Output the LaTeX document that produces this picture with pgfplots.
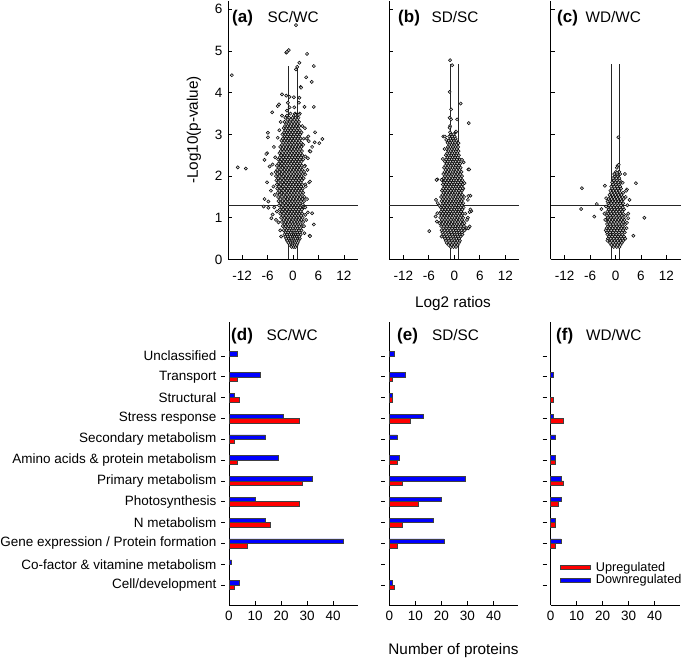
\documentclass[border=0pt]{standalone}
\usepackage{pgfplots}
\pgfplotsset{compat=1.18}
\usepackage{fontspec}
\setmainfont{Liberation Sans}
\definecolor{upred}{RGB}{255,0,0}
\definecolor{downblue}{RGB}{0,0,255}
\pgfplotsset{
  base/.style={
    scale only axis, anchor=south west, clip=false,
    axis x line*=bottom, axis y line*=left,
    axis line style={line width=0.8pt, black},
    major tick length=4pt,
    tick style={black, line width=0.7pt},
    /pgf/number format/assume math mode=true,
    tick label style={font=\fontsize{13.5}{16}\selectfont},
  },
  volc/.style={base, width=130pt, height=258.5pt,
    xmin=-15.3, xmax=15.3, ymin=0, ymax=6.2,
    xtick={-12,-6,0,6,12}, ytick={0,1,2,3,4,5,6}, tick align=inside,
    xticklabel style={yshift=-8pt}, yticklabel style={xshift=-2pt}},
  thr/.style={black!85, line width=0.7pt},
  pts/.style={only marks, mark=*, mark size=1.6pt,
    mark options={draw=black, fill=black!18, line width=0.5pt}},
  bars/.style={base, width=129pt, height=283pt,
    xmin=0, xmax=49.5, ymin=-0.96, ymax=12.63,
    xtick={0,10,20,30,40}, ytick={0,1,2,3,4,5,6,7,8,9,10,11},
    tick align=inside, ytick style={xshift=-4pt},
    yticklabel style={xshift=-5pt},
    xticklabel style={yshift=-3pt},
    xbar, bar width=4.4pt},
  upbar/.style={fill=upred, draw=black!75, line width=0.5pt, bar shift=-2.2pt},
  dnbar/.style={fill=downblue, draw=black!75, line width=0.5pt, bar shift=2.2pt},
}
\begin{document}
\begin{tikzpicture}[x=1pt,y=1pt]
\useasboundingbox (0,0) rectangle (685,660);

% ---------------- (a) SC/WC volcano
\begin{axis}[volc, at={(228pt,400.5pt)}]
\addplot[thr] coordinates {(-1,0) (-1,4.65)};
\addplot[thr] coordinates {(1,0) (1,4.65)};
\addplot[thr] coordinates {(-15.3,1.3) (15.3,1.3)};
\addplot[pts] coordinates {
(-0.3,0.30) (0.2,0.30) (0.6,0.30)
(-0.8,0.35) (-0.1,0.35) (0.4,0.35) (0.9,0.35)
(-1.1,0.40) (-0.5,0.40) (0.0,0.40) (0.5,0.40) (1.1,0.40)
(-1.4,0.45) (-0.7,0.45) (-0.2,0.45) (0.3,0.45) (0.8,0.45) (1.3,0.45)
(-1.6,0.50) (-1.0,0.50) (-0.4,0.50) (0.1,0.50) (0.6,0.50) (1.2,0.50) (1.6,0.50)
(-1.8,0.55) (-1.2,0.55) (-0.6,0.55) (0.0,0.55) (0.4,0.55) (0.9,0.55) (1.5,0.55)
(-2.0,0.60) (-1.4,0.60) (-0.8,0.60) (-0.3,0.60) (0.2,0.60) (0.7,0.60) (1.2,0.60) (1.8,0.60)
(-1.7,0.65) (-1.1,0.65) (-0.5,0.65) (0.1,0.65) (0.5,0.65) (1.0,0.65) (1.6,0.65)
(-2.2,0.70) (-1.5,0.70) (-0.9,0.70) (-0.2,0.70) (0.3,0.70) (0.8,0.70) (1.4,0.70) (2.0,0.70)
(-1.9,0.75) (-1.2,0.75) (-0.6,0.75) (0.0,0.75) (0.6,0.75) (1.1,0.75) (1.7,0.75)
(-2.4,0.80) (-1.7,0.80) (-1.0,0.80) (-0.4,0.80) (0.2,0.80) (0.9,0.80) (1.5,0.80) (2.2,0.80)
(-2.0,0.85) (-1.3,0.85) (-0.7,0.85) (-0.1,0.85) (0.5,0.85) (1.2,0.85) (1.8,0.85)
(-2.6,0.90) (-1.8,0.90) (-1.1,0.90) (-0.3,0.90) (0.3,0.90) (1.0,0.90) (1.6,0.90) (2.4,0.90)
(-2.2,0.95) (-1.5,0.95) (-0.8,0.95) (0.0,0.95) (0.7,0.95) (1.3,0.95) (2.0,0.95)
(-2.8,1.00) (-2.0,1.00) (-1.2,1.00) (-0.5,1.00) (0.2,1.00) (0.9,1.00) (1.5,1.00) (2.3,1.00)
(-2.4,1.05) (-1.6,1.05) (-0.9,1.05) (-0.2,1.05) (0.5,1.05) (1.2,1.05) (1.9,1.05)
(-3.0,1.10) (-2.1,1.10) (-1.3,1.10) (-0.6,1.10) (0.1,1.10) (0.8,1.10) (1.5,1.10) (2.2,1.10)
(-2.6,1.15) (-1.8,1.15) (-1.0,1.15) (-0.3,1.15) (0.4,1.15) (1.1,1.15) (1.8,1.15)
(-3.1,1.20) (-2.3,1.20) (-1.5,1.20) (-0.7,1.20) (0.0,1.20) (0.7,1.20) (1.4,1.20) (2.1,1.20)
(-2.7,1.25) (-1.9,1.25) (-1.1,1.25) (-0.4,1.25) (0.3,1.25) (1.0,1.25) (1.7,1.25) (2.5,1.25)
(-3.3,1.30) (-2.4,1.30) (-1.6,1.30) (-0.8,1.30) (-0.1,1.30) (0.6,1.30) (1.3,1.30) (2.0,1.30)
(-2.9,1.35) (-2.0,1.35) (-1.2,1.35) (-0.5,1.35) (0.2,1.35) (0.9,1.35) (1.6,1.35)
(-3.4,1.40) (-2.5,1.40) (-1.7,1.40) (-0.9,1.40) (-0.2,1.40) (0.5,1.40) (1.2,1.40) (1.9,1.40) (2.6,1.40)
(-3.0,1.45) (-2.1,1.45) (-1.3,1.45) (-0.6,1.45) (0.1,1.45) (0.8,1.45) (1.5,1.45) (2.2,1.45)
(-3.5,1.50) (-2.6,1.50) (-1.8,1.50) (-1.0,1.50) (-0.3,1.50) (0.4,1.50) (1.1,1.50) (1.8,1.50)
(-3.1,1.55) (-2.2,1.55) (-1.4,1.55) (-0.7,1.55) (0.0,1.55) (0.7,1.55) (1.4,1.55) (2.1,1.55)
(-3.6,1.60) (-2.7,1.60) (-1.9,1.60) (-1.1,1.60) (-0.4,1.60) (0.3,1.60) (1.0,1.60) (1.7,1.60) (2.4,1.60)
(-3.2,1.65) (-2.3,1.65) (-1.5,1.65) (-0.8,1.65) (-0.1,1.65) (0.6,1.65) (1.3,1.65) (2.0,1.65)
(-3.7,1.70) (-2.8,1.70) (-2.0,1.70) (-1.2,1.70) (-0.5,1.70) (0.2,1.70) (0.9,1.70) (1.6,1.70) (2.3,1.70)
(-3.3,1.75) (-2.4,1.75) (-1.6,1.75) (-0.9,1.75) (-0.2,1.75) (0.5,1.75) (1.2,1.75) (1.9,1.75)
(-3.8,1.80) (-2.9,1.80) (-2.1,1.80) (-1.3,1.80) (-0.6,1.80) (0.1,1.80) (0.8,1.80) (1.5,1.80) (2.2,1.80) (2.9,1.80)
(-3.4,1.85) (-2.5,1.85) (-1.7,1.85) (-1.0,1.85) (-0.3,1.85) (0.4,1.85) (1.1,1.85) (1.8,1.85)
(-3.9,1.90) (-3.0,1.90) (-2.2,1.90) (-1.4,1.90) (-0.7,1.90) (0.0,1.90) (0.7,1.90) (1.4,1.90) (2.1,1.90)
(-3.5,1.95) (-2.6,1.95) (-1.8,1.95) (-1.1,1.95) (-0.4,1.95) (0.3,1.95) (1.0,1.95) (1.7,1.95) (2.5,1.95)
(-4.0,2.00) (-3.1,2.00) (-2.3,2.00) (-1.5,2.00) (-0.8,2.00) (-0.1,2.00) (0.6,2.00) (1.3,2.00) (2.0,2.00)
(-3.6,2.05) (-2.7,2.05) (-1.9,2.05) (-1.2,2.05) (-0.5,2.05) (0.2,2.05) (0.9,2.05) (1.6,2.05) (2.3,2.05)
(-4.1,2.10) (-3.2,2.10) (-2.4,2.10) (-1.6,2.10) (-0.9,2.10) (-0.2,2.10) (0.5,2.10) (1.2,2.10) (1.9,2.10) (2.6,2.10)
(-3.7,2.15) (-2.8,2.15) (-2.0,2.15) (-1.3,2.15) (-0.6,2.15) (0.1,2.15) (0.8,2.15) (1.5,2.15) (2.2,2.15)
(-3.3,2.20) (-2.5,2.20) (-1.7,2.20) (-1.0,2.20) (-0.3,2.20) (0.4,2.20) (1.1,2.20) (1.8,2.20)
(-3.8,2.25) (-2.9,2.25) (-2.1,2.25) (-1.4,2.25) (-0.7,2.25) (0.0,2.25) (0.7,2.25) (1.4,2.25) (2.1,2.25) (2.8,2.25)
(-3.4,2.30) (-2.6,2.30) (-1.8,2.30) (-1.1,2.30) (-0.4,2.30) (0.3,2.30) (1.0,2.30) (1.7,2.30)
(-3.0,2.35) (-2.2,2.35) (-1.5,2.35) (-0.8,2.35) (-0.1,2.35) (0.6,2.35) (1.3,2.35) (2.0,2.35)
(-3.5,2.40) (-2.7,2.40) (-1.9,2.40) (-1.2,2.40) (-0.5,2.40) (0.2,2.40) (0.9,2.40) (1.6,2.40) (2.4,2.40)
(-3.1,2.45) (-2.3,2.45) (-1.6,2.45) (-0.9,2.45) (-0.2,2.45) (0.5,2.45) (1.2,2.45) (1.9,2.45)
(-2.8,2.50) (-2.0,2.50) (-1.3,2.50) (-0.6,2.50) (0.1,2.50) (0.8,2.50) (1.5,2.50) (2.2,2.50)
(-3.2,2.55) (-2.4,2.55) (-1.7,2.55) (-1.0,2.55) (-0.3,2.55) (0.4,2.55) (1.1,2.55) (1.8,2.55)
(-2.9,2.60) (-2.1,2.60) (-1.4,2.60) (-0.7,2.60) (0.0,2.60) (0.7,2.60) (1.4,2.60) (2.1,2.60)
(-2.5,2.65) (-1.8,2.65) (-1.1,2.65) (-0.4,2.65) (0.3,2.65) (1.0,2.65) (1.7,2.65)
(-3.0,2.70) (-2.2,2.70) (-1.5,2.70) (-0.8,2.70) (-0.1,2.70) (0.6,2.70) (1.3,2.70) (2.0,2.70)
(-2.6,2.75) (-1.9,2.75) (-1.2,2.75) (-0.5,2.75) (0.2,2.75) (0.9,2.75) (1.6,2.75) (2.4,2.75)
(-2.3,2.80) (-1.6,2.80) (-0.9,2.80) (-0.2,2.80) (0.5,2.80) (1.2,2.80) (1.9,2.80)
(-2.7,2.85) (-2.0,2.85) (-1.3,2.85) (-0.6,2.85) (0.1,2.85) (0.8,2.85) (1.5,2.85)
(-2.4,2.90) (-1.7,2.90) (-1.0,2.90) (-0.3,2.90) (0.4,2.90) (1.1,2.90) (1.8,2.90) (2.5,2.90)
(-2.0,2.95) (-1.4,2.95) (-0.7,2.95) (0.0,2.95) (0.7,2.95) (1.4,2.95)
(-2.5,3.00) (-1.8,3.00) (-1.1,3.00) (-0.4,3.00) (0.3,3.00) (1.0,3.00) (1.7,3.00)
(-2.1,3.05) (-1.5,3.05) (-0.8,3.05) (-0.1,3.05) (0.6,3.05) (1.3,3.05) (2.0,3.05)
(-1.8,3.10) (-1.2,3.10) (-0.5,3.10) (0.2,3.10) (0.9,3.10) (1.6,3.10)
(-2.2,3.15) (-1.5,3.15) (-0.9,3.15) (-0.2,3.15) (0.5,3.15) (1.2,3.15)
(-1.9,3.20) (-1.3,3.20) (-0.6,3.20) (0.1,3.20) (0.8,3.20) (1.5,3.20) (2.2,3.20)
(-1.6,3.25) (-1.0,3.25) (-0.3,3.25) (0.4,3.25) (1.1,3.25)
(-2.0,3.30) (-1.4,3.30) (-0.7,3.30) (0.0,3.30) (0.7,3.30) (1.4,3.30)
(-1.2,3.35) (-0.5,3.35) (0.3,3.35) (1.0,3.35)
(-1.8,3.40) (-0.9,3.40) (-0.1,3.40) (0.6,3.40) (1.3,3.40)
(-1.4,3.45) (0.2,3.45) (0.9,3.45)
(-0.6,3.50) (0.5,3.50) (1.6,3.50)
(0.7,5.62) (-14.4,4.42) (-1.6,4.96) (-1.4,4.98) (-1.0,5.02) (3.3,4.93) (4.9,4.64)
(1.5,4.72) (1.0,4.62) (0.7,4.56) (3.1,4.37) (4.4,4.26) (1.8,4.14) (1.9,4.12)
(-2.6,3.96) (-1.6,3.93) (-0.8,3.90) (0.2,3.89) (1.5,3.88) (-3.6,3.68) (-3.3,3.72)
(4.9,3.66) (2.7,3.66) (1.4,3.76) (0.3,3.65) (-1.2,3.76) (-0.8,3.65) (-4.9,3.53)
(-1.4,3.57) (-2.6,3.45) (0.6,3.47) (1.4,3.47)
(5.2,3.05) (6.9,2.89) (3.7,2.84) (5.1,2.81) (-3.6,2.92) (-6.1,2.55) (-6.7,2.39)
(-5.5,2.23) (-4.8,2.28) (-13.0,2.21) (-11.1,2.18) (-6.1,1.85) (3.8,1.85) (2.9,2.04)
(3.9,2.60) (2.9,2.47) (3.5,2.43) (2.7,2.23) (-6.7,1.45) (-5.8,1.39) (-6.9,1.27)
(-5.8,1.24) (-4.8,1.08) (-4.0,0.95) (-3.4,0.89) (4.9,0.84) (3.9,0.57) (2.7,0.63)
(3.5,1.13) (2.9,1.07) (2.3,1.32) (2.7,1.50) (-5.9,3.04) (-5.9,2.93) (-6.3,2.53)
(4.5,2.70) (6.2,2.79) (4.1,2.59) (4.0,1.87) (4.5,1.11) (4.0,0.56) (-5.1,0.99)
(-4.5,2.70) (-4.2,2.45) (-5.0,2.05) (-4.6,1.75) (-4.3,1.55) (-5.2,1.65) (3.2,2.90)
(3.4,2.15) (3.0,1.75) (3.3,1.45) (2.9,1.25) (3.1,0.95) (2.6,0.80) (-3.0,0.70)
(-2.8,0.55) (-4.4,1.25) (-3.8,1.15) (3.6,2.95) (2.8,3.15) (-3.2,3.10) (-2.9,3.30)
};
\end{axis}

% ---------------- (b) SD/SC volcano
\begin{axis}[volc, at={(389.3pt,400.5pt)}, yticklabels={}]
\addplot[thr] coordinates {(-1,0) (-1,4.7)};
\addplot[thr] coordinates {(1,0) (1,4.7)};
\addplot[thr] coordinates {(-15.3,1.3) (15.3,1.3)};
\addplot[pts] coordinates {
(-0.8,0.30) (-0.2,0.30) (0.4,0.30)
(-1.4,0.35) (-0.6,0.35) (0.1,0.35) (0.8,0.35)
(-1.8,0.40) (-1.0,0.40) (-0.3,0.40) (0.4,0.40) (1.1,0.40)
(-2.0,0.45) (-1.3,0.45) (-0.6,0.45) (0.1,0.45) (0.7,0.45) (1.3,0.45)
(-2.2,0.50) (-1.5,0.50) (-0.8,0.50) (-0.1,0.50) (0.5,0.50) (1.1,0.50)
(-2.4,0.55) (-1.7,0.55) (-1.0,0.55) (-0.3,0.55) (0.3,0.55) (0.9,0.55) (1.5,0.55)
(-2.6,0.60) (-1.9,0.60) (-1.2,0.60) (-0.5,0.60) (0.1,0.60) (0.7,0.60) (1.3,0.60) (1.9,0.60)
(-2.8,0.65) (-2.1,0.65) (-1.4,0.65) (-0.7,0.65) (0.0,0.65) (0.6,0.65) (1.2,0.65) (1.8,0.65)
(-3.0,0.70) (-2.3,0.70) (-1.6,0.70) (-0.9,0.70) (-0.2,0.70) (0.4,0.70) (1.0,0.70) (1.7,0.70) (2.4,0.70)
(-2.6,0.75) (-1.9,0.75) (-1.2,0.75) (-0.5,0.75) (0.2,0.75) (0.8,0.75) (1.4,0.75) (2.1,0.75)
(-3.1,0.80) (-2.4,0.80) (-1.7,0.80) (-1.0,0.80) (-0.3,0.80) (0.3,0.80) (1.0,0.80) (1.6,0.80) (2.3,0.80)
(-2.8,0.85) (-2.1,0.85) (-1.4,0.85) (-0.7,0.85) (0.0,0.85) (0.6,0.85) (1.2,0.85) (1.9,0.85)
(-3.2,0.90) (-2.5,0.90) (-1.8,0.90) (-1.1,0.90) (-0.4,0.90) (0.2,0.90) (0.9,0.90) (1.5,0.90) (2.2,0.90)
(-2.9,0.95) (-2.2,0.95) (-1.5,0.95) (-0.8,0.95) (-0.1,0.95) (0.5,0.95) (1.2,0.95) (1.8,0.95)
(-3.3,1.00) (-2.6,1.00) (-1.9,1.00) (-1.2,1.00) (-0.5,1.00) (0.1,1.00) (0.8,1.00) (1.4,1.00) (2.1,1.00)
(-3.0,1.05) (-2.3,1.05) (-1.6,1.05) (-0.9,1.05) (-0.2,1.05) (0.4,1.05) (1.0,1.05) (1.7,1.05)
(-3.4,1.10) (-2.7,1.10) (-2.0,1.10) (-1.3,1.10) (-0.6,1.10) (0.0,1.10) (0.7,1.10) (1.3,1.10) (2.0,1.10) (2.6,1.10)
(-3.1,1.15) (-2.4,1.15) (-1.7,1.15) (-1.0,1.15) (-0.3,1.15) (0.3,1.15) (1.0,1.15) (1.6,1.15)
(-2.8,1.20) (-2.1,1.20) (-1.4,1.20) (-0.7,1.20) (0.0,1.20) (0.6,1.20) (1.2,1.20) (1.9,1.20)
(-3.2,1.25) (-2.5,1.25) (-1.8,1.25) (-1.1,1.25) (-0.4,1.25) (0.2,1.25) (0.9,1.25) (1.5,1.25) (2.2,1.25)
(-2.9,1.30) (-2.2,1.30) (-1.5,1.30) (-0.8,1.30) (-0.1,1.30) (0.5,1.30) (1.1,1.30) (1.8,1.30)
(-2.6,1.35) (-1.9,1.35) (-1.2,1.35) (-0.5,1.35) (0.1,1.35) (0.8,1.35) (1.4,1.35) (2.1,1.35)
(-3.0,1.40) (-2.3,1.40) (-1.6,1.40) (-0.9,1.40) (-0.2,1.40) (0.4,1.40) (1.0,1.40) (1.7,1.40)
(-2.7,1.45) (-2.0,1.45) (-1.3,1.45) (-0.6,1.45) (0.0,1.45) (0.7,1.45) (1.3,1.45) (2.0,1.45)
(-3.1,1.50) (-2.4,1.50) (-1.7,1.50) (-1.0,1.50) (-0.3,1.50) (0.3,1.50) (0.9,1.50) (1.6,1.50) (2.3,1.50)
(-2.8,1.55) (-2.1,1.55) (-1.4,1.55) (-0.7,1.55) (-0.1,1.55) (0.6,1.55) (1.2,1.55) (1.9,1.55)
(-2.5,1.60) (-1.8,1.60) (-1.1,1.60) (-0.4,1.60) (0.2,1.60) (0.8,1.60) (1.5,1.60)
(-2.9,1.65) (-2.2,1.65) (-1.5,1.65) (-0.8,1.65) (-0.1,1.65) (0.5,1.65) (1.1,1.65) (1.8,1.65)
(-2.6,1.70) (-1.9,1.70) (-1.2,1.70) (-0.5,1.70) (0.1,1.70) (0.7,1.70) (1.4,1.70) (2.1,1.70)
(-2.3,1.75) (-1.6,1.75) (-0.9,1.75) (-0.2,1.75) (0.4,1.75) (1.0,1.75) (1.7,1.75)
(-2.7,1.80) (-2.0,1.80) (-1.3,1.80) (-0.6,1.80) (0.0,1.80) (0.6,1.80) (1.3,1.80) (2.0,1.80)
(-2.4,1.85) (-1.7,1.85) (-1.0,1.85) (-0.3,1.85) (0.3,1.85) (0.9,1.85) (1.6,1.85)
(-2.8,1.90) (-2.1,1.90) (-1.4,1.90) (-0.7,1.90) (-0.1,1.90) (0.5,1.90) (1.2,1.90) (1.9,1.90)
(-2.5,1.95) (-1.8,1.95) (-1.1,1.95) (-0.4,1.95) (0.2,1.95) (0.8,1.95) (1.5,1.95)
(-2.2,2.00) (-1.5,2.00) (-0.8,2.00) (-0.2,2.00) (0.4,2.00) (1.1,2.00) (1.8,2.00)
(-2.6,2.05) (-1.9,2.05) (-1.2,2.05) (-0.5,2.05) (0.1,2.05) (0.7,2.05) (1.4,2.05)
(-2.3,2.10) (-1.6,2.10) (-0.9,2.10) (-0.3,2.10) (0.3,2.10) (1.0,2.10) (1.7,2.10)
(-2.0,2.15) (-1.3,2.15) (-0.7,2.15) (-0.1,2.15) (0.5,2.15) (1.2,2.15)
(-2.4,2.20) (-1.7,2.20) (-1.0,2.20) (-0.4,2.20) (0.2,2.20) (0.9,2.20) (1.5,2.20)
(-2.1,2.25) (-1.4,2.25) (-0.8,2.25) (-0.2,2.25) (0.4,2.25) (1.1,2.25)
(-1.8,2.30) (-1.1,2.30) (-0.5,2.30) (0.1,2.30) (0.7,2.30) (1.4,2.30)
(-2.2,2.35) (-1.5,2.35) (-0.9,2.35) (-0.3,2.35) (0.3,2.35) (1.0,2.35)
(-1.9,2.40) (-1.2,2.40) (-0.6,2.40) (0.0,2.40) (0.6,2.40) (1.3,2.40)
(-1.6,2.45) (-1.0,2.45) (-0.4,2.45) (0.2,2.45) (0.8,2.45)
(-2.0,2.50) (-1.3,2.50) (-0.7,2.50) (-0.1,2.50) (0.5,2.50) (1.1,2.50)
(-1.7,2.55) (-1.1,2.55) (-0.5,2.55) (0.1,2.55) (0.7,2.55)
(-1.4,2.60) (-0.8,2.60) (-0.2,2.60) (0.4,2.60) (1.0,2.60)
(-1.8,2.65) (-1.2,2.65) (-0.6,2.65) (0.0,2.65) (0.6,2.65)
(-1.5,2.70) (-0.9,2.70) (-0.3,2.70) (0.3,2.70) (0.9,2.70)
(-1.2,2.75) (-0.6,2.75) (0.0,2.75) (0.5,2.75)
(-1.6,2.80) (-1.0,2.80) (-0.4,2.80) (0.2,2.80) (0.8,2.80)
(-1.3,2.85) (-0.7,2.85) (-0.1,2.85) (0.5,2.85)
(-0.9,2.90) (-0.3,2.90) (0.3,2.90)
(-1.2,2.95) (-0.5,2.95) (0.1,2.95)
(-0.8,3.00) (-0.2,3.00) (-1.0,3.05) (0.3,3.05)
(-1.0,4.78) (-0.5,4.66) (-1.1,4.02) (-0.75,3.60) (1.5,3.74) (-1.1,3.40) (-0.75,3.36)
(0.66,3.36) (3.4,3.27) (-1.0,3.20) (-1.1,3.16) (-2.6,2.95) (-2.2,2.95) (-1.9,2.87)
(0.4,3.07) (1.0,2.79) (-2.3,2.65) (1.8,2.39) (2.2,2.33) (3.3,2.16) (-2.7,2.41)
(-4.0,1.92) (-3.0,1.91) (2.4,1.83) (2.0,1.71) (3.8,1.53) (3.2,1.43) (-4.3,1.43)
(-3.5,1.29) (-3.9,1.35) (-4.0,1.11) (-4.4,1.03) (-4.1,0.91) (-3.5,0.87) (-5.9,0.68)
(3.2,1.00) (4.0,1.16) (3.6,0.79) (3.0,0.95) (2.4,0.87) (2.9,0.75) (-3.0,0.55)
(3.5,2.16) (3.3,1.52) (3.8,1.20) (3.6,1.14) (3.3,0.75) (-4.2,1.91)
};
\end{axis}

% ---------------- (c) WD/WC volcano
\begin{axis}[volc, at={(550.5pt,400.5pt)}, yticklabels={}]
\addplot[thr] coordinates {(-1,0) (-1,4.7)};
\addplot[thr] coordinates {(1,0) (1,4.7)};
\addplot[thr] coordinates {(-15.3,1.3) (15.3,1.3)};
\addplot[pts] coordinates {
(-0.4,0.30) (0.3,0.30) (0.9,0.30)
(-1.0,0.35) (-0.2,0.35) (0.5,0.35) (1.2,0.35)
(-1.3,0.40) (-0.6,0.40) (0.1,0.40) (0.8,0.40) (1.5,0.40)
(-1.6,0.45) (-0.9,0.45) (-0.2,0.45) (0.5,0.45) (1.2,0.45) (1.8,0.45)
(-1.8,0.50) (-1.1,0.50) (-0.4,0.50) (0.3,0.50) (1.0,0.50) (1.6,0.50)
(-1.5,0.55) (-0.8,0.55) (-0.1,0.55) (0.6,0.55) (1.3,0.55) (2.0,0.55)
(-1.9,0.60) (-1.2,0.60) (-0.5,0.60) (0.2,0.60) (0.9,0.60) (1.6,0.60)
(-2.0,0.65) (-1.3,0.65) (-0.6,0.65) (0.1,0.65) (0.8,0.65) (1.5,0.65) (2.2,0.65)
(-1.7,0.70) (-1.0,0.70) (-0.3,0.70) (0.4,0.70) (1.1,0.70) (1.8,0.70)
(-2.1,0.75) (-1.4,0.75) (-0.7,0.75) (0.0,0.75) (0.7,0.75) (1.4,0.75) (2.1,0.75)
(-1.8,0.80) (-1.1,0.80) (-0.4,0.80) (0.3,0.80) (1.0,0.80) (1.7,0.80)
(-2.0,0.85) (-1.3,0.85) (-0.6,0.85) (0.1,0.85) (0.8,0.85) (1.5,0.85) (2.3,0.85)
(-1.7,0.90) (-1.0,0.90) (-0.3,0.90) (0.4,0.90) (1.1,0.90) (1.8,0.90)
(-2.1,0.95) (-1.4,0.95) (-0.7,0.95) (0.0,0.95) (0.7,0.95) (1.4,0.95) (2.1,0.95)
(-1.8,1.00) (-1.1,1.00) (-0.4,1.00) (0.3,1.00) (1.0,1.00) (1.7,1.00)
(-2.0,1.05) (-1.3,1.05) (-0.6,1.05) (0.1,1.05) (0.8,1.05) (1.5,1.05) (2.4,1.05)
(-1.7,1.10) (-1.0,1.10) (-0.3,1.10) (0.4,1.10) (1.1,1.10) (1.8,1.10)
(-1.9,1.15) (-1.2,1.15) (-0.5,1.15) (0.2,1.15) (0.9,1.15) (1.6,1.15)
(-1.6,1.20) (-0.9,1.20) (-0.2,1.20) (0.5,1.20) (1.2,1.20) (2.0,1.20)
(-1.8,1.25) (-1.1,1.25) (-0.4,1.25) (0.3,1.25) (1.0,1.25) (1.7,1.25)
(-1.5,1.30) (-0.8,1.30) (-0.1,1.30) (0.6,1.30) (1.3,1.30)
(-1.7,1.35) (-1.0,1.35) (-0.3,1.35) (0.4,1.35) (1.1,1.35) (1.8,1.35)
(-1.4,1.40) (-0.7,1.40) (0.0,1.40) (0.7,1.40) (1.4,1.40)
(-1.6,1.45) (-0.9,1.45) (-0.2,1.45) (0.5,1.45) (1.2,1.45) (1.9,1.45)
(-1.2,1.50) (-0.5,1.50) (0.2,1.50) (0.9,1.50) (1.6,1.50)
(-1.4,1.55) (-0.7,1.55) (0.0,1.55) (0.7,1.55) (1.4,1.55)
(-1.0,1.60) (-0.3,1.60) (0.4,1.60) (1.1,1.60) (1.8,1.60)
(-1.2,1.65) (-0.5,1.65) (0.2,1.65) (0.9,1.65)
(-0.8,1.70) (-0.1,1.70) (0.6,1.70) (1.3,1.70)
(-1.0,1.75) (-0.3,1.75) (0.4,1.75) (1.1,1.75)
(-0.6,1.80) (0.1,1.80) (0.8,1.80)
(-0.8,1.85) (0.0,1.85) (0.7,1.85) (1.4,1.85)
(-0.4,1.90) (0.3,1.90) (1.0,1.90)
(-0.6,1.95) (0.2,1.95) (0.9,1.95)
(-0.2,2.00) (0.5,2.00) (-0.3,2.05) (0.4,2.05) (1.1,2.05)
(0.1,2.10) (0.8,2.10) (0.3,2.20)
(0.67,2.93) (0.5,2.25) (0.75,2.27) (-0.3,2.05) (0.35,2.08) (0.9,2.10) (2.2,2.05)
(4.8,1.83) (-7.9,1.71) (-2.5,1.77) (2.7,1.68) (2.5,1.65) (1.7,1.84) (3.3,1.43)
(-4.4,1.33) (-8.1,1.21) (-3.3,1.21) (-5.0,1.03) (6.8,1.00) (4.2,0.57) (3.0,1.10)
(3.0,0.99) (2.7,0.88) (-2.2,1.47) (-1.85,1.39) (-2.2,1.27) (-2.4,0.95) (-2.3,0.70)
(2.6,0.75) (2.8,1.30) (-2.6,1.10) (2.3,0.50) (-1.9,0.45) (2.4,1.50)
};
\end{axis}

% ---------------- (d) SC/WC bars
\begin{axis}[bars, at={(229pt,55pt)},
  yticklabels={Cell/development, Co-factor \& vitamine metabolism, Gene expression / Protein formation, N metabolism, Photosynthesis, Primary metabolism, Amino acids \& protein metabolism, Secondary metabolism, Stress response, Structural, Transport, Unclassified}]
\addplot[upbar] coordinates {(2,0) (7,2) (16,3) (27,4) (28,5) (3,6) (2,7) (27,8) (4,9) (3,10)};
\addplot[dnbar] coordinates {(4,0) (1,1) (44,2) (14,3) (10,4) (32,5) (19,6) (14,7) (21,8) (2,9) (12,10) (3,11)};
\end{axis}

% ---------------- (e) SD/SC bars
\begin{axis}[bars, at={(389.3pt,55pt)}, yticklabels={}]
\addplot[upbar] coordinates {(2,0) (3,2) (5,3) (11,4) (5,5) (3,6) (8,8) (1,9) (1,10)};
\addplot[dnbar] coordinates {(1,0) (21,2) (17,3) (20,4) (29,5) (4,6) (3,7) (13,8) (1,9) (6,10) (2,11)};
\end{axis}

% ---------------- (f) WD/WC bars
\begin{axis}[bars, at={(550.5pt,55pt)}, yticklabels={},
  legend style={at={(0.068,0.163)}, anchor=north west, draw=none, fill=none,
    font=\fontsize{12.7}{15}\selectfont, row sep=-2pt, inner sep=1pt,
    cells={anchor=west},
    /tikz/every odd column/.append style={column sep=3pt}}]
\addplot[upbar, forget plot] coordinates {(2,2) (2,3) (3,4) (5,5) (2,6) (5,8) (1,9)};
\addplot[dnbar, forget plot] coordinates {(4,2) (2,3) (4,4) (4,5) (2,6) (2,7) (1,8) (1,10)};
\addlegendimage{legend image code/.code={\draw[fill=upred, draw=black!75, line width=0.5pt] (0pt,-1.7pt) rectangle (30pt,1.7pt);}}
\addlegendentry{Upregulated}
\addlegendimage{legend image code/.code={\draw[fill=downblue, draw=black!75, line width=0.5pt] (0pt,-1.7pt) rectangle (30pt,1.7pt);}}
\addlegendentry{Downregulated}
\end{axis}

% ---------------- titles and labels
\tikzset{ttl/.style={anchor=base west, inner sep=0pt, font=\fontsize{15.3}{18}\selectfont},
         tag/.style={anchor=base west, inner sep=0pt, font=\fontsize{17}{20}\selectfont\bfseries}}
\node[tag] at (232pt,637.5pt) {(a)};
\node[ttl] at (267.5pt,637.5pt) {SC/WC};
\node[tag] at (398pt,637.5pt) {(b)};
\node[ttl] at (431.5pt,637.5pt) {SD/SC};
\node[tag] at (557pt,637.5pt) {(c)};
\node[ttl] at (585.5pt,637.5pt) {WD/WC};
\node[tag] at (231pt,319.5pt) {(d)};
\node[ttl] at (266.5pt,319.5pt) {SC/WC};
\node[tag] at (397pt,319.5pt) {(e)};
\node[ttl] at (432pt,319.5pt) {SD/SC};
\node[tag] at (556pt,319.5pt) {(f)};
\node[ttl] at (586pt,319.5pt) {WD/WC};
\node[rotate=90, inner sep=0pt, font=\fontsize{15.3}{18}\selectfont] at (194pt,530pt) {-Log10(p-value)};
\node[anchor=base, inner sep=0pt, font=\fontsize{15.3}{18}\selectfont] at (453pt,352pt) {Log2 ratios};
\node[anchor=base, inner sep=0pt, font=\fontsize{15.3}{18}\selectfont] at (453.5pt,5.5pt) {Number of proteins};
\end{tikzpicture}
\end{document}
